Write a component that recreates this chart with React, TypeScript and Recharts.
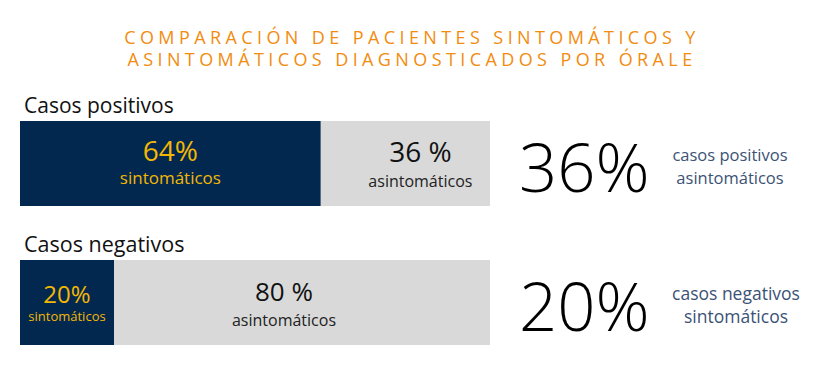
import { BarChart, Bar, XAxis, YAxis, LabelList } from "recharts";

const categories = ["Casos positivos", "Casos negativos"];
const sintomaticos = [64, 20];
const asintomaticos = [36, 80];
const highlightValues = [36, 20];
const highlightLines = [
  ["casos positivos", "asintomáticos"],
  ["casos negativos", "sintomáticos"],
];

const NAVY = "#03284f";
const GREY = "#d9d9d9";
const GOLD = "#f2b705";
const ORANGE = "#f28c0f";
const FONT = "'Open Sans', sans-serif";

const data = categories.map((name, i) => ({
  name,
  sintomaticos: sintomaticos[i],
  asintomaticos: asintomaticos[i],
}));

function SintomaticosLabel(props: any) {
  const { x, y, width, value, index } = props;
  const small = width < 120;
  const cx = x + width / 2;
  return (
    <g fontFamily={FONT}>
      <text x={x + 4} y={y - 8} fontSize={index === 0 ? 21 : 21.5} fill="#111">
        {categories[index]}
      </text>
      <text x={cx} y={y + (small ? 43 : 40)} textAnchor="middle" fontSize={small ? 24 : 28} fill={GOLD}>
        {value}%
      </text>
      <text x={cx} y={y + (small ? 61 : 63)} textAnchor="middle" fontSize={small ? 13 : 17} fill={GOLD}>
        sintomáticos
      </text>
    </g>
  );
}

function AsintomaticosLabel(props: any) {
  const { x, y, width, value, index } = props;
  // reference nudges the grey-segment text off centre
  const cx = x + width / 2 + (index === 0 ? 15 : -18);
  const right = x + width;
  const lines = highlightLines[index];
  const sideX = right + (index === 0 ? 240 : 246);
  const sideSize = index === 0 ? 16.5 : 17.5;
  return (
    <g fontFamily={FONT}>
      <text x={cx} y={y + 41} textAnchor="middle" fontSize={index === 0 ? 28 : 26} fill="#111">
        {value} %
      </text>
      <text x={cx} y={y + 66} textAnchor="middle" fontSize={16} fill="#222">
        asintomáticos
      </text>
      <text x={right + 29} y={y + 71} fontSize={67} fontWeight={300} fill="#000">
        {highlightValues[index]}%
      </text>
      <text x={sideX} y={y + 40} textAnchor="middle" fontSize={sideSize} fill="#3b5275">
        {lines[0]}
      </text>
      <text x={sideX} y={y + 63} textAnchor="middle" fontSize={sideSize} fill="#3b5275">
        {lines[1]}
      </text>
    </g>
  );
}

export default function App() {
  return (
    <div style={{ position: "relative", width: 840, height: 378, background: "#fff" }}>
      <style>{`body{margin:0}`}</style>
      <div
        style={{
          position: "absolute",
          top: 26,
          left: 0,
          width: 824,
          textAlign: "center",
          fontFamily: FONT,
          fontSize: 18,
          lineHeight: "22px",
          letterSpacing: 4.4,
          color: ORANGE,
        }}
      >
        COMPARACIÓN DE PACIENTES SINTOMÁTICOS Y
        <br />
        ASINTOMÁTICOS DIAGNOSTICADOS POR ÓRALE
      </div>
      <div style={{ position: "absolute", top: 0, left: 0 }}>
        <BarChart
          width={840}
          height={378}
          data={data}
          layout="vertical"
          margin={{ top: 94, right: 350, bottom: 6, left: 20 }}
        >
          <XAxis type="number" domain={[0, 100]} hide />
          <YAxis type="category" dataKey="name" hide />
          <Bar dataKey="sintomaticos" stackId="a" fill={NAVY} barSize={85} isAnimationActive={false}>
            <LabelList dataKey="sintomaticos" content={SintomaticosLabel} />
          </Bar>
          <Bar dataKey="asintomaticos" stackId="a" fill={GREY} barSize={85} isAnimationActive={false}>
            <LabelList dataKey="asintomaticos" content={AsintomaticosLabel} />
          </Bar>
        </BarChart>
      </div>
    </div>
  );
}
